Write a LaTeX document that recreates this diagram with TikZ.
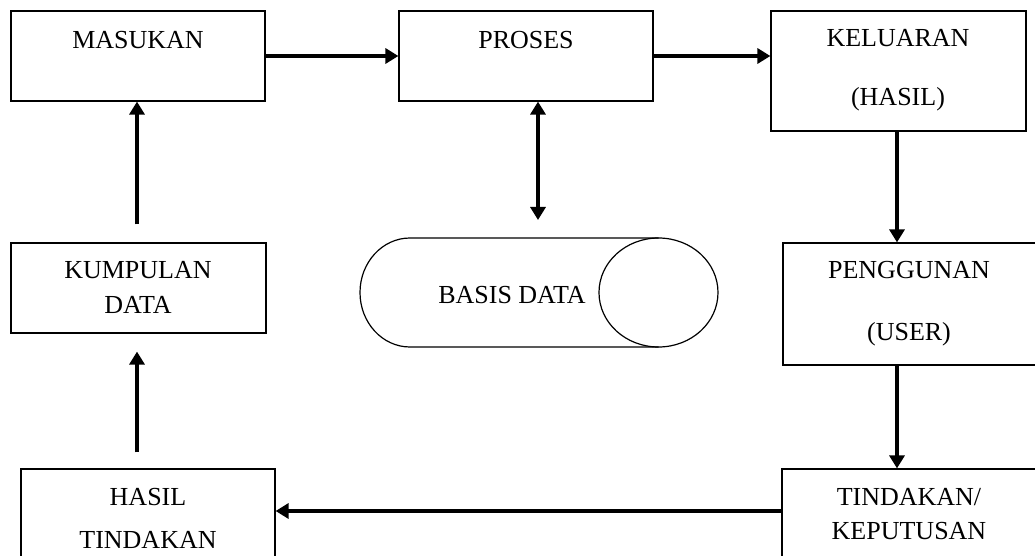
\documentclass[tikz,border=0pt]{standalone}
\usepackage{fontspec}
\setmainfont{Liberation Serif}
\usetikzlibrary{arrows.meta,calc}
\begin{document}
\begin{tikzpicture}[x=0.5pt,y=-0.5pt,
  box/.style={draw,line width=0.6pt,inner sep=0pt},
  lbl/.style={inner sep=0pt,anchor=base,font=\fontsize{13}{15}\selectfont},
  arr/.style={line width=2.3pt,-{Triangle[length=6.5pt,width=7.5pt]}},
  darr/.style={line width=2.3pt,{Triangle[length=6.5pt,width=7.5pt]}-{Triangle[length=6.5pt,width=7.5pt]}}]
\useasboundingbox (0,0) rectangle (1035,556);
% boxes
\node[box,minimum width=127pt,minimum height=45pt] (masukan) at (138,56) {};
\node[box,minimum width=127pt,minimum height=45pt] (proses) at (526,56) {};
\node[box,minimum width=127.5pt,minimum height=60pt] (keluaran) at (898.5,71) {};
\node[box,minimum width=131pt,minimum height=61pt] (pengguna) at (914,304) {};
\node[box,minimum width=127.5pt,minimum height=45pt] (kumpulan) at (138.5,288) {};
\node[box,minimum width=127pt,minimum height=55.5pt] (hasil) at (148,524.5) {};
\node[box,minimum width=131.5pt,minimum height=55.5pt] (tindakan) at (913.5,524.5) {};
% texts
\node[lbl] (t1) at (138,48.6) {MASUKAN};
\node[lbl] (t2) at (526,48.6) {PROSES};
\node[lbl] (t3) at (898,46.6) {KELUARAN};
\node[lbl] (t4) at (898,105.6) {(HASIL)};
\node[lbl] (t5) at (909,278.6) {PENGGUNAN};
\node[lbl] (t6) at (909,340.6) {(USER)};
\node[lbl] (t7) at (138,278.6) {KUMPULAN};
\node[lbl] (t8) at (138,313.6) {DATA};
\node[lbl] (t9) at (148,505.6) {HASIL};
\node[lbl] (t10) at (148,548.6) {TINDAKAN};
\node[lbl] (t11) at (909,505.6) {TINDAKAN/};
\node[lbl] (t12) at (909,539.6) {KEPUTUSAN};
\node[lbl] (t13) at (512,303.6) {BASIS DATA};
% database (horizontal cylinder)
\draw[line width=0.6pt] (658.5,238) -- (410,238) arc[start angle=90,end angle=270,x radius=25pt,y radius=27.25pt] -- (658.5,347);
\draw[line width=0.6pt] (658.5,292.5) ellipse [x radius=29.75pt,y radius=27.25pt];
\coordinate (dbtop) at (538,220);
% connectors
\draw[arr] (masukan.east) -- (proses.west);
\draw[arr] (proses.east) -- (proses.east -| keluaran.west);
\draw[darr] (proses.south -| dbtop) -- (dbtop);
\draw[arr] (keluaran.south -| 897,0) -- (pengguna.north -| 897,0);
\draw[arr] (pengguna.south -| 897,0) -- (tindakan.north -| 897,0);
\draw[arr] ($(tindakan.west)+(0,-13.5)$) -- ($(hasil.east)+(0,-13.5)$);
\draw[arr,shorten <=8pt,shorten >=9pt] (hasil.north -| 137,0) -- (kumpulan.south -| 137,0);
\draw[arr,shorten <=9pt] (kumpulan.north -| 137,0) -- (masukan.south -| 137,0);
\end{tikzpicture}
\end{document}
